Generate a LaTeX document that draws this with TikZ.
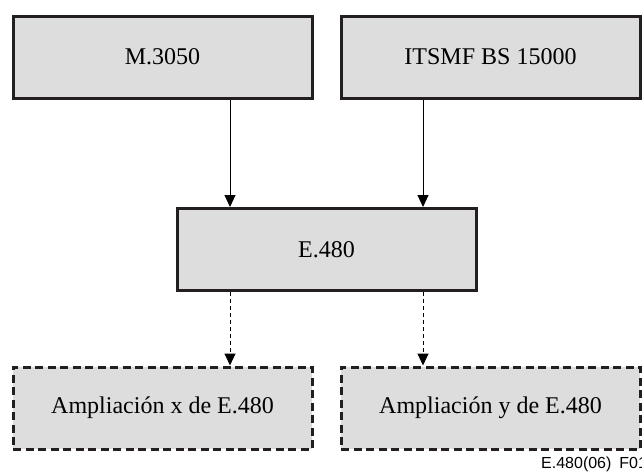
\documentclass[tikz,border=0pt]{standalone}
\usepackage{fontspec}
\setmainfont{Liberation Serif}
\newfontfamily\labelfont{Liberation Sans}
\usetikzlibrary{arrows.meta}
\definecolor{boxfill}{HTML}{DDDDDD}
\definecolor{boxline}{HTML}{231F20}
\begin{document}
\begin{tikzpicture}[x=1pt,y=-1pt,
  solidbox/.style={draw=boxline,fill=boxfill,line width=3pt,minimum width=299pt,minimum height=82pt,inner sep=0pt,font=\fontsize{24}{28}\selectfont},
  dashbox/.style={solidbox,dash pattern=on 8pt off 4.5pt},
  arr/.style={draw=black,line width=1pt,-{Triangle[width=11pt,length=12pt]}},
  darr/.style={arr,dash pattern=on 4pt off 3pt}]
\useasboundingbox (0,0) rectangle (642,471);
\node[solidbox] (m) at (162.5,57) {M.3050};
\node[solidbox] (it) at (490.5,57) {ITSMF BS 15000};
\node[solidbox] (e) at (326.5,249.5) {E.480};
\node[dashbox] (ax) at (162.5,408) {Ampliación x de E.480};
\node[dashbox] (ay) at (490.5,408) {Ampliación y de E.480};
\draw[arr] (m.south -| 230,0) -- (e.north -| 230,0);
\draw[arr] (it.south -| 423,0) -- (e.north -| 423,0);
\draw[darr] (e.south -| 230,0) -- (ax.north -| 230,0);
\draw[darr] (e.south -| 423,0) -- (ay.north -| 423,0);
\node[anchor=base west,inner sep=0pt,font=\labelfont\fontsize{16}{18}\selectfont] (lbl) at (541,468) {E.480(06)\enspace F01};
\end{tikzpicture}
\end{document}
